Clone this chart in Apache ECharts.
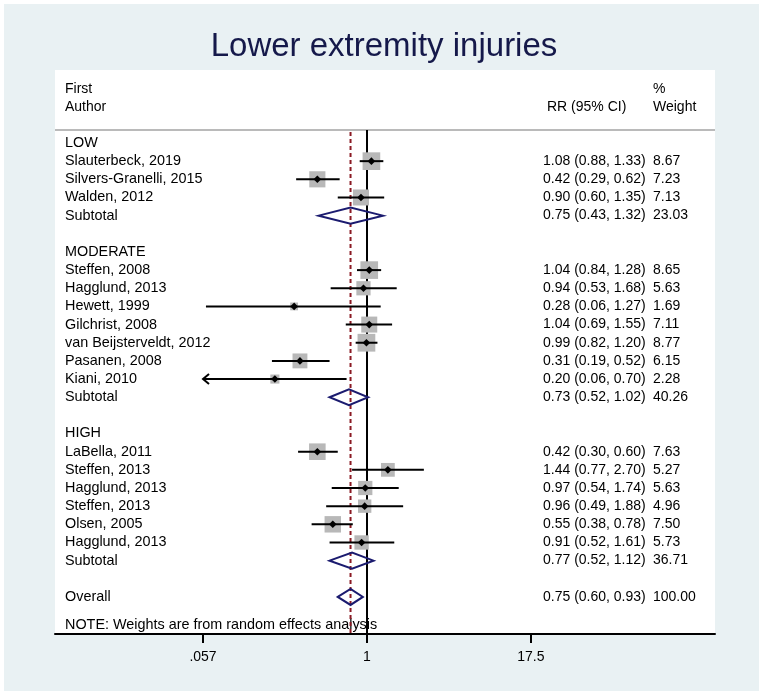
<!DOCTYPE html>
<html><head><meta charset="utf-8">
<script src="https://cdn.jsdelivr.net/npm/echarts@6/dist/echarts.min.js"></script>
<style>html,body{margin:0;padding:0;background:#fff}#c{width:764px;height:699px}</style>
</head><body><div id="c"></div><script>
// ---------------- data ----------------
const groupNames = ['LOW', 'MODERATE', 'HIGH'];
const studyNames = ['Slauterbeck, 2019', 'Silvers-Granelli, 2015', 'Walden, 2012',
  'Steffen, 2008', 'Hagglund, 2013', 'Hewett, 1999', 'Gilchrist, 2008', 'van Beijsterveldt, 2012', 'Pasanen, 2008', 'Kiani, 2010',
  'LaBella, 2011', 'Steffen, 2013', 'Hagglund, 2013', 'Steffen, 2013', 'Olsen, 2005', 'Hagglund, 2013'];
const studyGroup = [0, 0, 0, 1, 1, 1, 1, 1, 1, 1, 2, 2, 2, 2, 2, 2];
const studyRR   = [1.08, 0.42, 0.90, 1.04, 0.94, 0.28, 1.04, 0.99, 0.31, 0.20, 0.42, 1.44, 0.97, 0.96, 0.55, 0.91];
const studyLow  = [0.88, 0.29, 0.60, 0.84, 0.53, 0.06, 0.69, 0.82, 0.19, 0.06, 0.30, 0.77, 0.54, 0.49, 0.38, 0.52];
const studyHigh = [1.33, 0.62, 1.35, 1.28, 1.68, 1.27, 1.55, 1.20, 0.52, 0.70, 0.60, 2.70, 1.74, 1.88, 0.78, 1.61];
const studyWeight = [8.67, 7.23, 7.13, 8.65, 5.63, 1.69, 7.11, 8.77, 6.15, 2.28, 7.63, 5.27, 5.63, 4.96, 7.50, 5.73];
const studyClippedLow = [false, false, false, false, false, false, false, false, false, true, false, false, false, false, false, false];
const subtotalRR = [0.75, 0.73, 0.77];
const subtotalLow = [0.43, 0.52, 0.52];
const subtotalHigh = [1.32, 1.02, 1.12];
const subtotalWeight = [23.03, 40.26, 36.71];
const overallRR = 0.75, overallLow = 0.60, overallHigh = 0.93, overallWeight = 100.00;
const xTickValues = [0.057, 1, 17.5];
const xTickLabels = ['.057', '1', '17.5'];
const displayMin = 0.057;   // lower plotting limit (CI clipped with arrow)
const nullValue = 1;

// --------------- rows ----------------
const rows = [];
groupNames.forEach((g, gi) => {
  rows.push({ kind: 'head', label: g });
  studyNames.forEach((n, i) => {
    if (studyGroup[i] !== gi) return;
    rows.push({ kind: 'study', label: n, rr: studyRR[i], lo: studyLow[i], hi: studyHigh[i], w: studyWeight[i], clip: studyClippedLow[i] });
  });
  rows.push({ kind: 'sub', label: 'Subtotal', rr: subtotalRR[gi], lo: subtotalLow[gi], hi: subtotalHigh[gi], w: subtotalWeight[gi] });
  rows.push({ kind: 'blank' });
});
rows.push({ kind: 'sub', label: 'Overall', rr: overallRR, lo: overallLow, hi: overallHigh, w: overallWeight });

// --------------- layout ----------------
const FONT = '"Liberation Sans", Arial, Helvetica, sans-serif';
const X_MIN = -2.367, X_MAX = 2.640;
const Y_MIN = -4.02, Y_MAX = 27.04;
const HEADER_ROW = -0.716;
const LABEL_X = 65, RR_X = 543, W_X = 653;
const lg = Math.log10;

function renderRow(params, api) {
  const r = rows[params.dataIndex];
  const y = api.coord([0, params.dataIndex])[1];
  const X = v => api.coord([lg(v), params.dataIndex])[0];
  const ch = [];
  const txt = (x, s, size) => ({ type: 'text', x: x, y: y, z2: 5,
    style: { text: s, fill: '#000', font: (size || 14) + 'px ' + FONT, align: 'left', verticalAlign: 'middle' } });
  if (r.kind === 'blank') return { type: 'group', children: [] };
  ch.push(txt(LABEL_X, r.label, 14.4));
  if (r.kind === 'study') {
    const cx = X(r.rr);
    const s = 6 * Math.sqrt(r.w);
    ch.push({ type: 'rect', z2: 1, shape: { x: cx - s / 2, y: y - s / 2, width: s, height: s }, style: { fill: '#b8b8b8' } });
    const x1 = X(r.clip ? displayMin : r.lo), x2 = X(r.hi);
    ch.push({ type: 'line', z2: 2, shape: { x1: x1, y1: y, x2: x2, y2: y }, style: { stroke: '#000', lineWidth: 2 } });
    if (r.clip) {
      ch.push({ type: 'polyline', z2: 2, shape: { points: [[x1 + 6, y - 5], [x1, y], [x1 + 6, y + 5]] }, style: { stroke: '#000', lineWidth: 2, fill: null } });
    }
    const d = 3.8;
    ch.push({ type: 'polygon', z2: 3, shape: { points: [[cx - d, y], [cx, y - d], [cx + d, y], [cx, y + d]] }, style: { fill: '#000' } });
  }
  if (r.kind === 'sub') {
    const h = 8;
    const xl = X(r.lo), xc = X(r.rr), xh = X(r.hi);
    ch.push({ type: 'polygon', z2: 3, shape: { points: [[xl, y], [xc, y - h], [xh, y], [xc, y + h]] }, style: { stroke: '#1b1b6f', lineWidth: 2, fill: null } });
  }
  if (r.kind === 'study' || r.kind === 'sub') {
    ch.push(txt(RR_X, r.rr.toFixed(2) + ' (' + r.lo.toFixed(2) + ', ' + r.hi.toFixed(2) + ')'));
    ch.push(txt(W_X, r.w.toFixed(2)));
  }
  return { type: 'group', children: ch };
}

function renderLines(params, api) {
  const top = api.coord([0, HEADER_ROW])[1];
  const bot = api.coord([0, Y_MAX])[1];
  const xl = api.coord([X_MIN, 0])[0], xr = api.coord([X_MAX, 0])[0];
  const x1 = api.coord([lg(nullValue), 0])[0];
  const xo = api.coord([lg(overallRR), 0])[0];
  return { type: 'group', children: [
    { type: 'line', shape: { x1: xl, y1: top, x2: xr, y2: top }, style: { stroke: '#a3a3a3', lineWidth: 1.5 } },
    { type: 'line', shape: { x1: x1, y1: top, x2: x1, y2: bot }, style: { stroke: '#000', lineWidth: 2 } },
    { type: 'line', shape: { x1: xo, y1: top + 2, x2: xo, y2: bot }, style: { stroke: '#8b1a24', lineWidth: 2, lineDash: [4, 3] } }
  ] };
}

const chart = echarts.init(document.getElementById('c'), null, { renderer: 'canvas' });
chart.setOption({
  animation: false,
  backgroundColor: '#e9f1f3',
  grid: { left: 55, right: 49, top: 70, bottom: 65, show: true, backgroundColor: '#ffffff', borderWidth: 0 },
  xAxis: {
    type: 'value', min: X_MIN, max: X_MAX, position: 'bottom',
    axisLine: { show: true, onZero: false, lineStyle: { color: '#000', width: 2 } },
    axisTick: { show: true, inside: false, length: 9, lineStyle: { color: '#000', width: 2 }, customValues: xTickValues.map(lg) },
    axisLabel: { show: true, margin: 16, color: '#000', fontSize: 14, fontFamily: FONT,
      customValues: xTickValues.map(lg),
      formatter: v => { let b = 0; xTickValues.forEach((t, i) => { if (Math.abs(lg(t) - v) < Math.abs(lg(xTickValues[b]) - v)) b = i; }); return xTickLabels[b]; } },
    splitLine: { show: false }
  },
  yAxis: { type: 'value', inverse: true, min: Y_MIN, max: Y_MAX, show: false, splitLine: { show: false } },
  graphic: [
    { type: 'rect', shape: { x: 0, y: 0, width: 764, height: 4 }, style: { fill: '#fff' } },
    { type: 'rect', shape: { x: 0, y: 0, width: 4, height: 699 }, style: { fill: '#fff' } },
    { type: 'rect', shape: { x: 759, y: 0, width: 5, height: 699 }, style: { fill: '#fff' } },
    { type: 'rect', shape: { x: 0, y: 691, width: 764, height: 8 }, style: { fill: '#fff' } },
    { type: 'text', x: 384, y: 47, style: { text: 'Lower extremity injuries', font: '33px ' + FONT, fill: '#15194a', align: 'center', verticalAlign: 'middle' } },
    { type: 'text', x: LABEL_X, y: 89, style: { text: 'First', font: '14px ' + FONT, fill: '#000', verticalAlign: 'middle' } },
    { type: 'text', x: LABEL_X, y: 107, style: { text: 'Author', font: '14px ' + FONT, fill: '#000', verticalAlign: 'middle' } },
    { type: 'text', x: 547, y: 107, style: { text: 'RR (95% CI)', font: '14px ' + FONT, fill: '#000', verticalAlign: 'middle' } },
    { type: 'text', x: W_X, y: 89, style: { text: '%', font: '14px ' + FONT, fill: '#000', verticalAlign: 'middle' } },
    { type: 'text', x: W_X, y: 107, style: { text: 'Weight', font: '14px ' + FONT, fill: '#000', verticalAlign: 'middle' } },
    { type: 'text', x: LABEL_X, y: 625, style: { text: 'NOTE: Weights are from random effects analysis', font: '14.4px ' + FONT, fill: '#000', verticalAlign: 'middle' } }
  ],
  series: [
    { type: 'custom', name: 'lines', clip: false, z: 2, data: [[0]], renderItem: renderLines, silent: true },
    { type: 'custom', name: 'rows', clip: false, z: 3, data: rows.map((r, i) => [i]), renderItem: renderRow, silent: true }
  ]
});
</script></body></html>
